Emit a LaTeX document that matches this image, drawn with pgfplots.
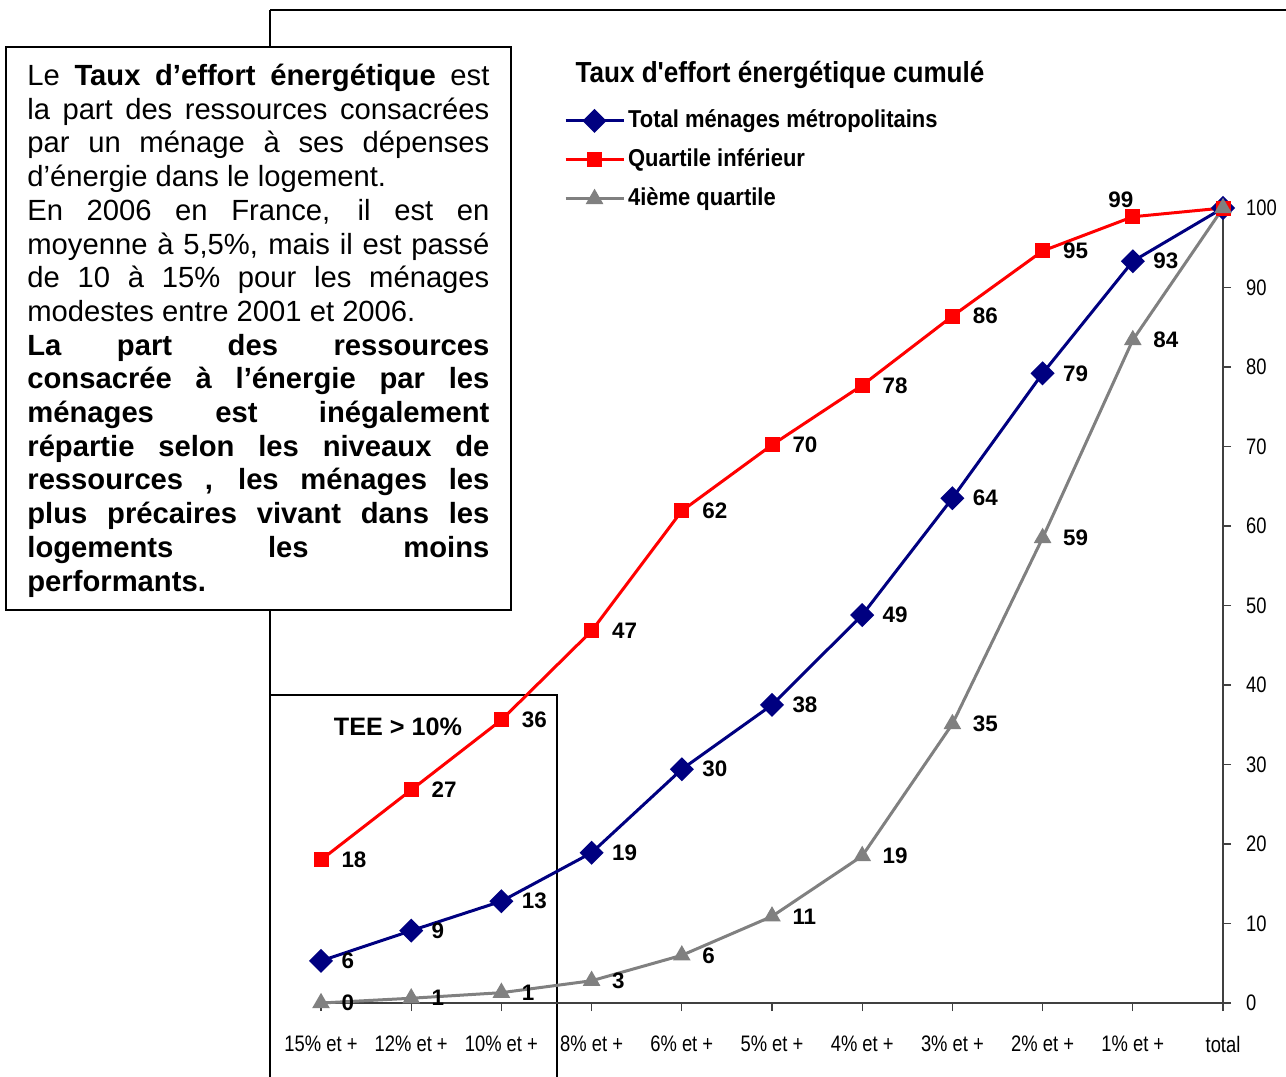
\documentclass[border=0pt]{standalone}
\usepackage{fontspec}
\setmainfont{Liberation Sans}
\newfontfamily\narrowfont[FakeStretch=0.82]{Liberation Sans}
\newfontfamily\titlefont[FakeStretch=0.9]{Liberation Sans}
\usepackage{pgfplots}
\pgfplotsset{compat=1.18}
\definecolor{navyc}{HTML}{000080}
\definecolor{redc}{HTML}{FF0000}
\definecolor{grayc}{HTML}{808080}
\newcommand\Ln[2]{\node[anchor=base west, inner sep=0pt] at (27,{85.5+33.7*(#1-1)}) {#2};}
\begin{document}
\begin{tikzpicture}
\useasboundingbox (0pt,0pt) rectangle (643pt,-538.5pt);
\begin{scope}[x=0.5pt,y=-0.5pt]
  \draw[line width=0.75pt] (270,10) -- (1290,10);
  \draw[line width=0.75pt] (270,10) -- (270,1090);
  \draw[line width=1pt] (270,1090) -- (270,695) -- (557,695) -- (557,1090);
  \node[anchor=base, inner sep=0pt, font=\bfseries\fontsize{12.6}{14}\selectfont] at (398,735) {TEE > 10\%};
  \node[anchor=base, inner sep=0pt, font=\titlefont\bfseries\fontsize{14.5}{16}\selectfont] at (780,82) {Taux d'effort énergétique cumulé};
\end{scope}
\begin{axis}[
  anchor=south west, at={(160.5pt,-501.5pt)},
  scale only axis, width=451pt, height=397.5pt,
  xmin=0, xmax=10, ymin=0, ymax=100,
  clip=false,
  axis x line*=bottom, axis y line*=right,
  axis line style={black!75, line width=0.6pt, -},
  xtick={0,...,10},
  xticklabels={15\% et +,12\% et +,10\% et +,8\% et +,6\% et +,5\% et +,4\% et +,3\% et +,2\% et +,1\% et +,total},
  ytick={0,10,...,100},
  tick align=outside, major tick length=4pt,
  tick style={black!75, line width=0.6pt},
  every tick label/.append style={font=\narrowfont\fontsize{11.2}{13}\selectfont},
  /pgf/number format/assume math mode=true,
  xticklabel style={yshift=-9pt},
  yticklabel style={xshift=4pt},
  legend entries={Total ménages métropolitains,Quartile inférieur,4ième quartile},
  legend cell align=left,
  legend image code/.code={\draw[mark repeat=2,mark phase=2,#1] plot coordinates {(0cm,0cm) (0.51cm,0cm) (1.02cm,0cm)};},
  legend style={draw=none, fill=none, at={(0.2690,1.1258)}, anchor=north west, inner sep=0pt, row sep=7pt,
    nodes={inner xsep=1.5pt, inner ysep=0pt, text height=9.5pt, text depth=3pt, font=\titlefont\bfseries\fontsize{12.2}{14}\selectfont}},
  nodes near coords, point meta=explicit symbolic,
  nodes near coords style={anchor=west, inner sep=0pt, xshift=9.5pt, font=\bfseries\fontsize{11.2}{13}\selectfont, text=black},
]
\addplot[color=navyc, line width=1.5pt, mark=square*, mark size=3.5pt, mark options={rotate=45, solid, fill=navyc}]
  coordinates {(0,5.3)[6] (1,9.1)[9] (2,12.8)[13] (3,18.9)[19] (4,29.4)[30] (5,37.5)[38] (6,48.8)[49] (7,63.5)[64] (8,79.2)[79] (9,93.3)[93] (10,100)[{}]};
\addplot[color=redc, line width=1.5pt, mark=square*, mark size=3pt, mark options={solid, fill=redc}]
  coordinates {(0,18.0)[18] (1,26.8)[27] (2,35.6)[36] (3,46.8)[47] (4,61.9)[62] (5,70.2)[70] (6,77.7)[78] (7,86.4)[86] (8,94.6)[95] (9,98.9)[{}] (10,100)[{}]};
\addplot[color=grayc, line width=1.5pt, mark=triangle*, mark size=3.6pt, mark options={solid, fill=grayc}]
  coordinates {(0,0)[0] (1,0.6)[1] (2,1.3)[1] (3,2.8)[3] (4,6.0)[6] (5,10.9)[11] (6,18.5)[19] (7,35.1)[35] (8,58.5)[59] (9,83.4)[84] (10,100)[{}]};
\node[anchor=center, inner sep=0pt, font=\bfseries\fontsize{11.2}{13}\selectfont, xshift=-6pt, yshift=8.5pt] at (axis cs:9,98.9) {99};
\end{axis}
\begin{scope}[x=0.5pt,y=-0.5pt]
  \draw[line width=1pt, fill=white] (6,47) rectangle (511,610);
  \begin{scope}[font=\fontsize{14.6}{16.85}\selectfont]
  \Ln{1}{\makebox[231pt][s]{Le \textbf{Taux d’effort énergétique} est}}
  \Ln{2}{\makebox[231pt][s]{la part des ressources consacrées}}
  \Ln{3}{\makebox[231pt][s]{par un ménage à ses dépenses}}
  \Ln{4}{d’énergie dans le logement.}
  \Ln{5}{\makebox[231pt][s]{En 2006 en France, il est en}}
  \Ln{6}{\makebox[231pt][s]{moyenne à 5,5\%, mais il est passé}}
  \Ln{7}{\makebox[231pt][s]{de 10 à 15\% pour les ménages}}
  \Ln{8}{modestes entre 2001 et 2006.}
  \Ln{9}{\makebox[231pt][s]{\bfseries La part des ressources}}
  \Ln{10}{\makebox[231pt][s]{\bfseries consacrée à l’énergie par les}}
  \Ln{11}{\makebox[231pt][s]{\bfseries ménages est inégalement}}
  \Ln{12}{\makebox[231pt][s]{\bfseries répartie selon les niveaux de}}
  \Ln{13}{\makebox[231pt][s]{\bfseries ressources , les ménages les}}
  \Ln{14}{\makebox[231pt][s]{\bfseries plus précaires vivant dans les}}
  \Ln{15}{\makebox[231pt][s]{\bfseries logements les moins}}
  \Ln{16}{\textbf{performants.}}
  \end{scope}
\end{scope}
\end{tikzpicture}
\end{document}
